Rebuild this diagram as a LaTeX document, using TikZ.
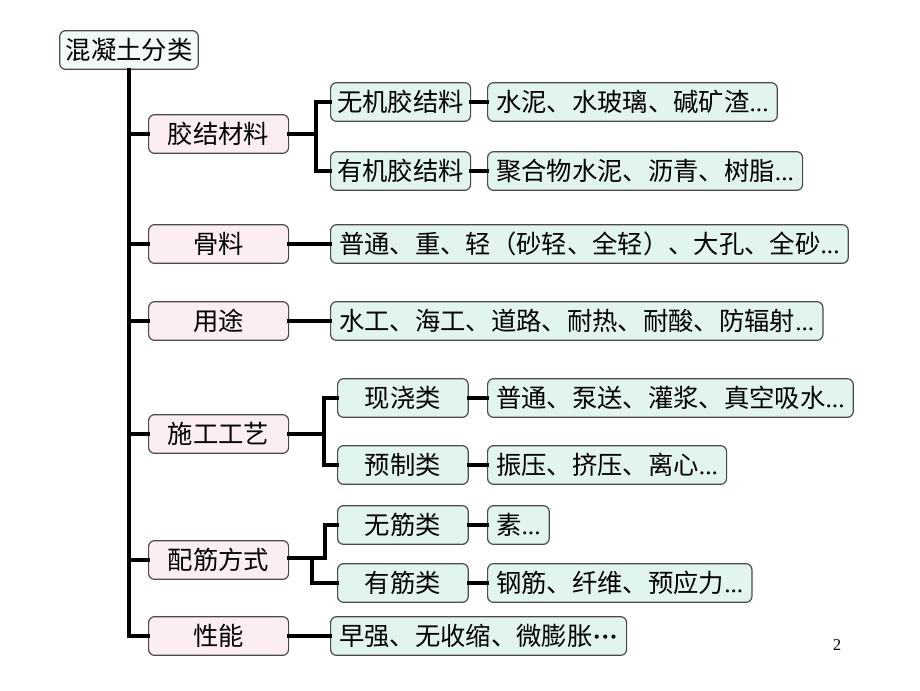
\documentclass[tikz,border=0pt]{standalone}
\usepackage{fontspec}
\setmainfont{Liberation Serif}
\newfontfamily\cjk{Noto Sans CJK SC}
\usepackage{tikz}

\definecolor{pinkfill}{HTML}{FCEDF2}
\definecolor{greenfill}{HTML}{E2F4EE}
\definecolor{boxline}{HTML}{4A4A4A}

\newcommand{\etc}{{\rmfamily...}}

\tikzset{
	box/.style={draw=boxline, line width=0.9pt, rounded corners=4.5pt, inner xsep=4.5pt, inner ysep=0pt, minimum height=29pt, font=\cjk\fontsize{19}{22}\selectfont},
	rootbox/.style={box, fill=greenfill!45, minimum width=103.5pt},
	catbox/.style={box, fill=pinkfill, minimum width=105pt},
	subbox/.style={box, fill=greenfill, minimum width=105pt},
	kindbox/.style={box, fill=greenfill, minimum width=98pt},
	itembox/.style={box, fill=greenfill, inner xsep=6.5pt},
	link/.style={line width=2.6pt, line cap=rect}
}

\begin{document}
\begin{tikzpicture}[x=0.75pt,y=0.75pt,yscale=-1,xscale=1]
	\useasboundingbox (0,0) rectangle (920,690);
	
	% Root
	\node [rootbox] (root) at (129,50) {混凝土分类};
	
	% Categories
	\node [catbox, anchor=west] (jcl) at (148,134) {胶结材料};
	\node [catbox, anchor=west] (gl) at (148,244) {骨料};
	\node [catbox, anchor=west] (yt) at (148,321) {用途};
	\node [catbox, anchor=west] (sg) at (148,434) {施工工艺};
	\node [catbox, anchor=west] (pj) at (148,560) {配筋方式};
	\node [catbox, anchor=west] (xn) at (148,636) {性能};
	
	% Sub kinds
	\node [subbox, anchor=west] (wj) at (330,102) {无机胶结料};
	\node [subbox, anchor=west] (yj) at (330,171) {有机胶结料};
	\node [kindbox, anchor=west] (xj) at (337,398) {现浇类};
	\node [kindbox, anchor=west] (yz) at (337,465) {预制类};
	\node [kindbox, anchor=west] (wjl) at (337,525) {无筋类};
	\node [kindbox, anchor=west] (yjl) at (337,583) {有筋类};
	
	% Items
	\node [itembox, anchor=west] (wjItem) at (487,102) {水泥、水玻璃、碱矿渣\etc};
	\node [itembox, anchor=west] (yjItem) at (487,171) {聚合物水泥、沥青、树脂\etc};
	\node [itembox, anchor=west] (glItem) at (330,244) {普通、重、轻（砂轻、全轻）、大孔、全砂\etc};
	\node [itembox, anchor=west] (ytItem) at (330,321) {水工、海工、道路、耐热、耐酸、防辐射\etc};
	\node [itembox, anchor=west] (xjItem) at (487,398) {普通、泵送、灌浆、真空吸水\etc};
	\node [itembox, anchor=west] (yzItem) at (487,465) {振压、挤压、离心\etc};
	\node [itembox, anchor=west] (wjlItem) at (487,525) {素\etc};
	\node [itembox, anchor=west] (yjlItem) at (487,583) {钢筋、纤维、预应力\etc};
	\node [itembox, anchor=west] (xnItem) at (330,636) {早强、无收缩、微膨胀{\rmfamily\textbf{···}}};
	
	% Page number
	\node (page) at (837,645) {\fontsize{12.5}{14}\selectfont 2};
	
	% Trunk
	\draw [link] (root.south) |- (xn.west);
	\foreach \n in {jcl,gl,yt,sg,pj}
		\draw [link] (root.south |- \n.west) -- (\n.west);
	
	% Brackets
	\coordinate (b1) at (316,134);
	\draw [link] (jcl.east) -- (b1);
	\draw [link] (wj.west) -| (b1) |- (yj.west);
	\coordinate (b2) at (324,434);
	\draw [link] (sg.east) -- (b2);
	\draw [link] (xj.west) -| (b2) |- (yz.west);
	\coordinate (b3) at (325,558);
	\coordinate (b4) at (312,558);
	\draw [link] (pj.east |- b3) -- (b3) |- (wjl.west);
	\draw [link] (b4) |- (yjl.west);
	
	% Straight links
	\draw [link] (wj) -- (wjItem);
	\draw [link] (yj) -- (yjItem);
	\draw [link] (gl) -- (glItem);
	\draw [link] (yt) -- (ytItem);
	\draw [link] (xj) -- (xjItem);
	\draw [link] (yz) -- (yzItem);
	\draw [link] (wjl) -- (wjlItem);
	\draw [link] (yjl) -- (yjlItem);
	\draw [link] (xn) -- (xnItem);
	
\end{tikzpicture}
\end{document}
